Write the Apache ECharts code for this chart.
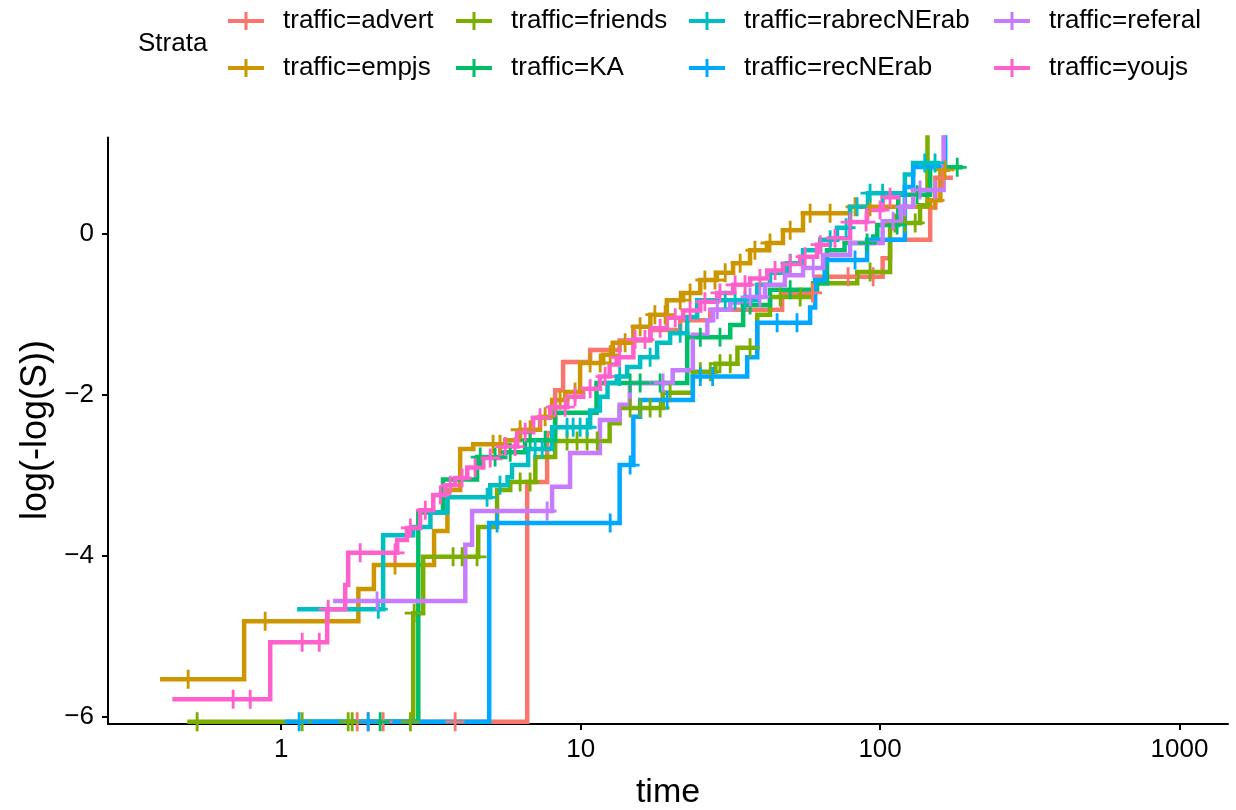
<!DOCTYPE html>
<html>
<head>
<meta charset="utf-8">
<script src="https://cdn.jsdelivr.net/npm/echarts@6/dist/echarts.min.js"></script>
<style>
html,body{margin:0;padding:0;background:#fff;}
#chart{width:1236px;height:810px;}
</style>
</head>
<body>
<div id="chart"></div>
<script>
// ---------- data ----------
const NEG_INF = -Infinity;
const strata = ['traffic=advert','traffic=empjs','traffic=friends','traffic=KA',
                'traffic=rabrecNErab','traffic=recNErab','traffic=referal','traffic=youjs'];
const xTickValues = [1, 10, 100, 1000];
const yTickValues = [-6, -4, -2, 0];

// step points: [time, log(-log(S))]
const advertSteps = [[1.70,NEG_INF],[6.63,-3.08],[7.73,-2.47],[8.22,-1.94],[8.74,-1.59],[10.76,-1.44],[13.5,-1.32],
  [17.1,-1.19],[21.5,-1.07],[27.1,-0.94],[47.1,-0.73],[60.7,-0.53],[102,-0.30],[108,-0.07],[147,0.33],[153,0.70],[175,0.70]];
const advertCensor = [1.794,1.952,2.19,3.81,59.5,78.2,94.8,162.3];

const empjsSteps = [[0.394,-5.53],[0.752,-4.81],[1.81,-4.41],[2.04,-4.11],[3.24,-3.69],[3.59,-3.18],[3.96,-2.67],[4.38,-2.61],
  [5.6,-2.56],[6.28,-2.43],[7.32,-2.27],[8.03,-2.06],[8.88,-1.96],[9.96,-1.60],[11.9,-1.50],[12.8,-1.35],[15.0,-1.15],
  [17.1,-1.00],[19.4,-0.82],[22.0,-0.73],[25.1,-0.57],[28.5,-0.48],[32.3,-0.36],[36.8,-0.20],[41.9,-0.11],[47.4,0.05],
  [55.3,0.26],[79.4,0.34],[147,0.42],[159,0.80],[171,0.80]];
const empjsCensor = [0.489,0.884,2.40,5.10,5.38,6.28,6.78,7.61,8.54,9.58,10.76,11.62,12.55,14.08,15.8,17.7,19.15,21.5,
  23.2,26.0,28.1,30.4,34.1,38.2,42.9,50.1,58.4,68.1,82.5,92.6,152.6,164.8];

const friendsSteps = [[0.486,NEG_INF],[2.76,-4.71],[2.98,-4.01],[4.55,-3.64],[5.26,-3.18],[5.82,-3.08],[7.06,-2.77],
  [8.22,-2.57],[12.5,-2.35],[13.5,-2.16],[18.8,-1.97],[23.7,-1.71],[28.2,-1.61],[33.4,-1.41],[38.9,-1.00],[42.9,-0.78],
  [59.7,-0.61],[83.9,-0.47],[108,0.14],[136,0.36],[144,1.40]];
const friendsCensor = [0.524,1.175,1.674,1.726,2.70,2.78,3.75,4.02,4.51,6.28,6.78,9.01,9.73,10.51,11.36,14.63,15.8,
  17.06,18.43,19.9,25.1,27.1,29.2,31.6,36.8,46.4,54.1,92.6,112,121,131];

const kaSteps = [[1.157,NEG_INF],[2.87,-3.46],[3.47,-3.05],[4.51,-2.77],[5.6,-2.71],[6.52,-2.56],[8.22,-2.22],[11.3,-1.85],
  [22.7,-1.28],[31.6,-1.13],[34.9,-0.88],[42.9,-0.69],[61.6,-0.61],[66.5,-0.20],[76.1,-0.11],[94.9,-0.03],[97.9,0.115],
  [115,0.49],[147,0.83],[189,0.83]];
const kaCensor = [2.14,4.62,5.18,5.82,6.78,7.61,14.63,15.8,18.43,25.1,29.2,36.8,50.1,90.5,114,133,181];

const rabrecSteps = [[1.13,-4.66],[2.19,-3.74],[2.76,-3.64],[3.15,-3.46],[3.59,-3.27],[4.99,-3.12],[5.7,-3.02],[5.9,-2.87],
  [6.68,-2.67],[8.03,-2.40],[10.76,-2.19],[11.6,-2.02],[12.3,-1.85],[13.2,-1.77],[14.3,-1.65],[15.8,-1.53],[18.0,-1.35],
  [19.9,-1.23],[22.7,-1.03],[24.5,-0.82],[38.9,-0.63],[42.9,-0.48],[48.9,-0.36],[55.3,-0.20],[63.1,-0.07],[71.8,0.08],
  [79.4,0.34],[91.1,0.51],[121,0.74],[129,0.885],[159,0.885]];
const rabrecCensor = [2.11,4.87,5.38,7.05,7.44,9.01,9.44,9.96,10.51,13.5,17.06,21.5,30.4,32.8,35.4,50.1,68.1,77,83.8,
  92.6,102,141,152.6];

const recSteps = [[1.03,NEG_INF],[4.95,-3.59],[13.5,-2.87],[15.0,-2.27],[15.8,-2.06],[23.7,-1.77],[36.0,-1.53],[38.9,-1.10],
  [58.4,-0.91],[60.7,-0.57],[65.3,-0.32],[90.5,-0.07],[121,0.585],[129,0.835],[165,1.40]];
const recCensor = [1.148,1.952,5.26,12.55,14.63,19.45,25.1,27.6,45.3,52.8,82.5];

const referalSteps = [[1.49,-4.56],[4.12,-3.86],[4.34,-3.44],[8.03,-3.14],[9.22,-2.72],[11.6,-2.31],[13.5,-2.12],[14.6,-1.85],
  [20.3,-1.69],[23.7,-1.25],[26.5,-1.07],[27.7,-0.94],[31.6,-0.85],[35.5,-0.78],[41.3,-0.63],[48.1,-0.51],[55.3,-0.42],
  [64.5,-0.26],[79.4,-0.11],[102,0.16],[117,0.34],[129,0.55],[163,1.40]];
const referalCensor = [2.09,7.73,18.86,28.6,36.8,39.7,59.8,110.5,121,136,152.6];

const youjsSteps = [[0.433,-5.78],[0.919,-5.07],[1.424,-4.66],[1.636,-4.36],[1.674,-3.96],[2.44,-3.80],[2.63,-3.65],
  [2.91,-3.43],[3.22,-3.24],[3.53,-3.12],[3.81,-3.03],[4.18,-2.90],[4.73,-2.78],[5.39,-2.64],[6.14,-2.46],[6.94,-2.28],
  [7.91,-2.15],[9.02,-2.02],[10.2,-1.92],[11.6,-1.77],[12.5,-1.62],[13.2,-1.53],[15.0,-1.31],[17.1,-1.17],[19.4,-1.04],
  [22.0,-0.95],[25.1,-0.84],[28.6,-0.73],[32.3,-0.63],[36.8,-0.55],[42.0,-0.45],[47.4,-0.37],[54.1,-0.28],[61.6,-0.13],
  [68.1,-0.05],[79.4,0.15],[90.5,0.30],[102,0.46],[117,0.46]];
const youjsCensor = [0.691,0.788,1.175,1.34,1.435,1.836,2.40,2.70,3.03,3.40,3.67,4.02,4.44,4.99,5.60,6.04,6.53,7.32,8.22,
  8.88,9.58,10.76,12.07,13.5,15.2,16.4,18.43,20.7,23.2,26.0,29.2,32.8,35.4,39.7,44.6,50.1,56.2,63.1,70.7,79.4,89.8,100,108];

const stepsList = [advertSteps, empjsSteps, friendsSteps, kaSteps, rabrecSteps, recSteps, referalSteps, youjsSteps];
const censorList = [advertCensor, empjsCensor, friendsCensor, kaCensor, rabrecCensor, recCensor, referalCensor, youjsCensor];

// ---------- styling ----------
const colors = ['#F8766D','#CD9600','#7CAE00','#00BE67','#00BFC4','#00A9FF','#C77CFF','#FF61CC'];
const Y_MIN = -6.087, Y_MAX = 1.2;
const FLOOR_DRAW = -6.06;           // where -Inf is drawn (panel floor)
const FONT = '"Liberation Sans", Arial, Helvetica, sans-serif';
const PLUS = 'path://M0,8.5H20V11.5H0Z M8.5,0H11.5V20H8.5Z';
const LEG_ICON = 'path://M0,7H36V11H0Z M16.5,0H19.5V18H16.5Z';

function valueAt(steps, t) {
  let v = steps[0][1];
  for (const [s, y] of steps) { if (s <= t) v = y; else break; }
  return v;
}
const floorY = v => (v === -Infinity ? FLOOR_DRAW : v);

const lineSeries = strata.map((name, i) => ({
  name, type: 'line', step: 'end', symbol: 'none', showSymbol: false, clip: true,
  data: stepsList[i].map(([t, y]) => [t, floorY(y)]),
  lineStyle: { width: 4.5, color: colors[i], cap: 'butt', join: 'miter' },
  itemStyle: { color: colors[i] }, z: 2, silent: true
}));
const censorSeries = strata.map((name, i) => ({
  name, type: 'scatter', symbol: PLUS, symbolSize: 19, clip: true,
  data: censorList[i].map(t => [t, floorY(valueAt(stepsList[i], t))]),
  itemStyle: { color: colors[i], opacity: 1 }, z: 3, silent: true
}));

const legendCols = [[0, 1, 228], [2, 3, 456], [4, 5, 689], [6, 7, 994]];
const legends = legendCols.map(([a, b, left]) => ({
  orient: 'vertical', left, top: 6, padding: 0, itemGap: 17,
  itemWidth: 36, itemHeight: 18, selectedMode: false,
  textStyle: { fontFamily: FONT, fontSize: 26, color: '#000', lineHeight: 30, padding: [0, 0, 0, 14] },
  data: [strata[a], strata[b]].map(n => ({ name: n, icon: LEG_ICON }))
}));

const chart = echarts.init(document.getElementById('chart'), null, { renderer: 'canvas' });
chart.setOption({
  animation: false,
  backgroundColor: '#fff',
  legend: legends,
  grid: { left: 108, right: 8, top: 137.6, bottom: 86, containLabel: false },
  xAxis: {
    type: 'log', logBase: 10, min: 0.264, max: 1452,
    axisLine: { show: true, onZero: false, lineStyle: { color: '#000', width: 2 } },
    axisTick: { show: true, customValues: xTickValues, length: 6, lineStyle: { color: '#000', width: 2 } },
    axisLabel: { customValues: xTickValues, fontFamily: FONT, fontSize: 26, color: '#000', margin: 13,
                 formatter: v => String(v) },
    splitLine: { show: false }, minorTick: { show: false }
  },
  yAxis: {
    type: 'value', min: Y_MIN, max: Y_MAX,
    axisLine: { show: true, onZero: false, lineStyle: { color: '#000', width: 2 } },
    axisTick: { show: true, customValues: yTickValues, length: 6, lineStyle: { color: '#000', width: 2 } },
    axisLabel: { customValues: yTickValues, fontFamily: FONT, fontSize: 26, color: '#000', margin: 14,
                 formatter: v => (v < 0 ? '\u2212' + Math.abs(v) : String(v)) },
    splitLine: { show: false }
  },
  graphic: [
    { type: 'text', left: 138, top: 31, style: { text: 'Strata', font: '26px ' + FONT, fill: '#000' } },
    { type: 'text', x: 668, y: 793, style: { text: 'time', font: '34px ' + FONT, fill: '#000',
      textAlign: 'center', textVerticalAlign: 'middle' } },
    { type: 'text', x: 36, y: 430, rotation: Math.PI / 2, style: { text: 'log(-log(S))', font: '36px ' + FONT,
      fill: '#000', textAlign: 'center', textVerticalAlign: 'middle' } }
  ],
  series: lineSeries.concat(censorSeries)
});
</script>
</body>
</html>
